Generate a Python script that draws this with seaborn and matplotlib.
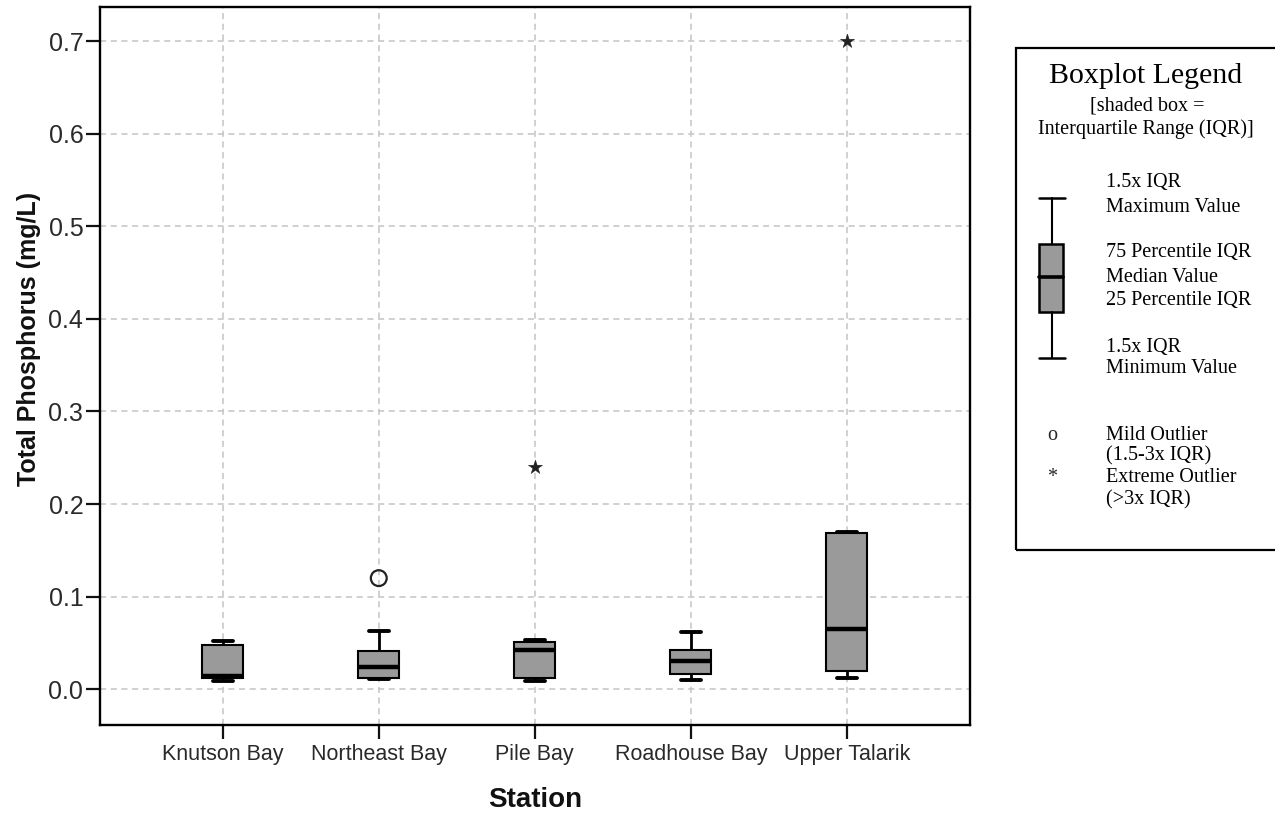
import numpy as np
import pandas as pd
import matplotlib
matplotlib.use("Agg")
import matplotlib.pyplot as plt
import seaborn as sns
from matplotlib.patches import Rectangle
from matplotlib.lines import Line2D

# ---------------- data ----------------
stations = ["Knutson Bay", "Northeast Bay", "Pile Bay", "Roadhouse Bay", "Upper Talarik"]
whisker_low = [0.009, 0.011, 0.009, 0.010, 0.012]
q1 = [0.012, 0.012, 0.012, 0.017, 0.020]
median = [0.014, 0.024, 0.042, 0.030, 0.065]
q3 = [0.048, 0.041, 0.051, 0.042, 0.169]
whisker_high = [0.052, 0.063, 0.053, 0.062, 0.170]

mild_station = ["Northeast Bay"]
mild_value = [0.12]
extreme_station = ["Pile Bay", "Upper Talarik"]
extreme_value = [0.24, 0.70]

yticks = [0.0, 0.1, 0.2, 0.3, 0.4, 0.5, 0.6, 0.7]
ytick_labels = ["0.0", "0.1", "0.2", "0.3", "0.4", "0.5", "0.6", "0.7"]

# ---------------- figure ----------------
W, H = 1275, 819
sns.set_style("white")
plt.rcParams["font.family"] = ["Liberation Sans", "DejaVu Sans"]

fig = plt.figure(figsize=(W / 100, H / 100), dpi=100)
ax = fig.add_axes([100 / W, 1 - 725 / H, 870 / W, 718 / H])

df = pd.DataFrame({
    "Station": np.repeat(stations, 5),
    "TP": np.column_stack([whisker_low, q1, median, q3, whisker_high]).ravel(),
})

BOX_GRAY = "#9a9a9a"
sns.boxplot(
    data=df, x="Station", y="TP", order=stations,
    color=BOX_GRAY, saturation=1, width=0.26, whis=(0, 100),
    linecolor="black", linewidth=1.5, showfliers=False, ax=ax,
    medianprops=dict(linewidth=3.2, color="black"),
    whiskerprops=dict(linewidth=2.0, color="black"),
    capprops=dict(linewidth=2.8, color="black"),
)

sns.scatterplot(
    x=[stations.index(s) for s in mild_station], y=mild_value,
    marker="o", s=130, facecolor="none", edgecolor="#222222", linewidth=1.6,
    ax=ax, zorder=5,
)
sns.scatterplot(
    x=[stations.index(s) for s in extreme_station], y=extreme_value,
    marker="*", s=115, color="#222222", edgecolor="#222222", linewidth=0.3,
    ax=ax, zorder=5,
)

ax.set_xlim(-0.787, 4.79)
ax.set_ylim(-0.0386, 0.7368)
ax.set_yticks(yticks)
ax.set_yticklabels(ytick_labels)
ax.set_xticks(range(len(stations)))
ax.set_xticklabels(stations)

ax.grid(True, color="#c4c4c4", linestyle=(0, (4, 3)), linewidth=1.1)
ax.set_axisbelow(True)
for sp in ax.spines.values():
    sp.set_visible(True)
    sp.set_color("black")
    sp.set_linewidth(1.7)

ax.tick_params(axis="both", direction="out", length=10, width=1.6, color="#111111",
               bottom=True, left=True, labelcolor="#2a2a2a")
ax.tick_params(axis="y", labelsize=18, pad=2)
ax.tick_params(axis="x", labelsize=15.5, pad=4)

ax.set_xlabel("Station", fontsize=20, fontweight="bold", color="#111111")
ax.set_ylabel("Total Phosphorus (mg/L)", fontsize=18, fontweight="bold", color="#111111")
ax.xaxis.label.set_verticalalignment("center")
ax.xaxis.set_label_coords(0.5, (725 - 800) / 718)
ax.yaxis.set_label_coords(-0.068, 0.5376)

# ---------------- hand-drawn legend panel ----------------
def fx(px):
    return px / W

def fy(py):
    return 1 - py / H

fig.add_artist(Rectangle((fx(1016), fy(550)), fx(1300) - fx(1016), fy(48) - fy(550),
                         transform=fig.transFigure, fill=False, edgecolor="black",
                         linewidth=1.6, clip_on=False))

# mini boxplot
cx = 1052
fig.add_artist(Line2D([fx(cx), fx(cx)], [fy(198), fy(244)], transform=fig.transFigure,
                      color="black", linewidth=1.5))
fig.add_artist(Line2D([fx(cx), fx(cx)], [fy(312), fy(358)], transform=fig.transFigure,
                      color="black", linewidth=1.5))
fig.add_artist(Line2D([fx(1039), fx(1065)], [fy(198), fy(198)], transform=fig.transFigure,
                      color="black", linewidth=1.8))
fig.add_artist(Line2D([fx(1039), fx(1065)], [fy(358), fy(358)], transform=fig.transFigure,
                      color="black", linewidth=1.8))
fig.add_artist(Rectangle((fx(1039), fy(312)), fx(1063) - fx(1039), fy(244) - fy(312),
                         transform=fig.transFigure, facecolor=BOX_GRAY, edgecolor="black",
                         linewidth=1.8))
fig.add_artist(Line2D([fx(1039), fx(1063)], [fy(277), fy(277)], transform=fig.transFigure,
                      color="black", linewidth=2.6))

serif = ["Liberation Serif", "DejaVu Serif"]
fig.text(fx(1146), fy(76), "Boxplot Legend", family=serif, fontsize=21.5,
         ha="center", va="center", color="black")
fig.text(fx(1147), fy(106), "[shaded box =", family=serif, fontsize=14.5,
         ha="center", va="center", color="black")
fig.text(fx(1146), fy(129), "Interquartile Range (IQR)]", family=serif, fontsize=14.5,
         ha="center", va="center", color="black")

rows = [
    (183, "1.5x IQR"), (207, "Maximum Value"),
    (253, "75 Percentile IQR"), (277, "Median Value"), (300, "25 Percentile IQR"),
    (347, "1.5x IQR"), (369, "Minimum Value"),
    (435, "Mild Outlier"), (456, "(1.5-3x IQR)"),
    (477, "Extreme Outlier"), (500, "(>3x IQR)"),
]
for y, t in rows:
    fig.text(fx(1106), fy(y), t, family=serif, fontsize=14.5, ha="left", va="center",
             color="black")
fig.text(fx(1052), fy(435), "o", family=serif, fontsize=14.5, ha="center", va="center")
fig.text(fx(1052), fy(477), "*", family=serif, fontsize=14.5, ha="center", va="center")

fig.savefig("out.png", dpi=100)
